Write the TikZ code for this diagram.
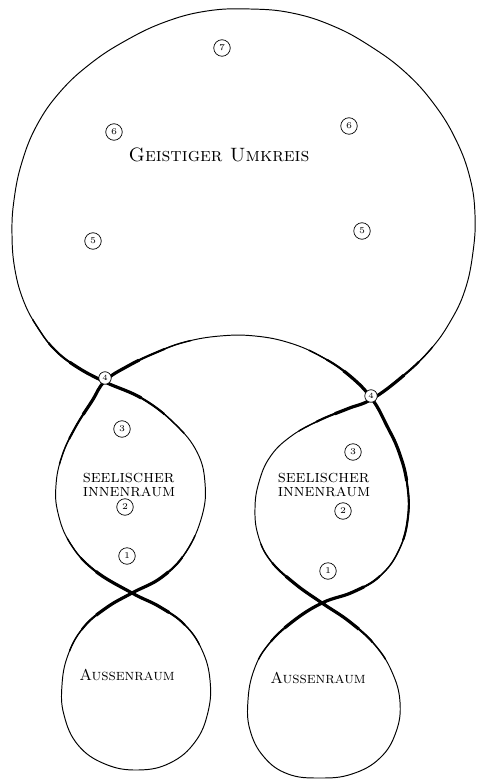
\documentclass[tikz,border=0pt]{standalone}
% the twisted band as one closed line
\newcommand\bandline{plot[smooth cycle,tension=0.7] coordinates {
 (105,382) (77,367) (55,350) (38,328) (24,302) (15,270) (12,235) (14,200) (22,162) (37,125) (60,92) (90,64) (125,41) (165,22) (207,11) (250,9) (292,13) (333,26) (370,46) (405,72) (434,104) (456,140) (470,178) (475,215) (473,252) (465,290) (450,322) (430,350) (403,376)
 (372,399) (347,409) (318,421) (290,437) (270,457) (259,482) (255,508) (258,535) (270,560) (294,583)
 (322,603) (350,622) (375,645) (392,672) (400,702) (396,732) (380,758) (352,774) (320,778) (288,774) (264,757) (250,730) (248,700) (254,670) (268,645) (292,622)
 (322,603) (353,592) (380,576) (399,550) (408,517) (407,483) (399,452) (387,426)
 (372,399) (350,376) (322,357) (290,343) (255,336) (220,336) (185,342) (155,353) (128,366)
 (105,381) (92,401) (75,428) (62,456) (56,485) (58,513) (70,543) (94,570)
 (132,593) (160,607) (185,625) (202,650) (210,680) (208,712) (195,742) (170,763) (138,770) (105,764) (78,745) (64,715) (62,685) (68,655) (83,628) (106,608)
 (132,593) (162,577) (186,552) (202,516) (205,483) (197,452) (175,424) (143,399)}}
\begin{document}
\begin{tikzpicture}[x=0.02cm,y=-0.02cm,
  loopline/.style={line width=0.55pt,line cap=round,line join=round},
  softline/.style={line width=0.8pt,line join=round},
  midline/.style={line width=1.2pt,line join=round},
  heavyline/.style={line width=1.8pt,line join=round},
  num/.style={draw,circle,line width=0.4pt,inner sep=0pt,minimum size=3.3mm,font=\tiny},
  knot/.style={num,fill=white,minimum size=2.5mm,font=\fontsize{4.5}{5}\selectfont},
  lab/.style={font=\scshape\fontsize{10}{8.5}\selectfont,align=left,inner sep=1pt}]
\useasboundingbox (0,0) rectangle (477,780);
\draw[loopline] \bandline;
% heavier strokes near the four crossings
\begin{scope}
  \clip (105,381) circle (95) (372,399) circle (80) (403,510) circle (50)
        (132,593) circle (85) (322,603) circle (85);
  \draw[softline] \bandline;
\end{scope}
\begin{scope}
  \clip (105,381) circle (68) (372,399) circle (60) (403,495) circle (45)
        (132,593) circle (62) (322,603) circle (64);
  \draw[midline] \bandline;
\end{scope}
\begin{scope}
  \clip (105,381) circle (40) (372,399) circle (40) (398,450) circle (32)
        (132,593) circle (42) (322,603) circle (45);
  \draw[heavyline] \bandline;
\end{scope}
% labels
\node[lab,font=\scshape\fontsize{11}{13}\selectfont] (geist) at (219,155) {Geistiger Umkreis};
\node[lab] (seeleL) at (129,485) {seelischer\\innenraum};
\node[lab] (seeleR) at (324,485) {seelischer\\innenraum};
\node[lab,font=\scshape\fontsize{9}{10}\selectfont] (aussenL) at (127,675) {Aussenraum};
\node[lab,font=\scshape\fontsize{9}{10}\selectfont] (aussenR) at (318,678) {Aussenraum};
% circled numbers
\node[num] (n7)  at (222,48)  {7};
\node[num] (n6l) at (114,132) {6};
\node[num] (n6r) at (349,126) {6};
\node[num] (n5l) at (93,241)  {5};
\node[num] (n5r) at (362,231) {5};
\node[num] (n3l) at (122,429) {3};
\node[num] (n2l) at (125,507) {2};
\node[num] (n1l) at (127,556) {1};
\node[num] (n3r) at (353,452) {3};
\node[num] (n2r) at (343,511) {2};
\node[num] (n1r) at (328,571) {1};
\node[knot] (n4l) at (105,378) {4};
\node[knot] (n4r) at (371,396) {4};
\end{tikzpicture}
\end{document}
